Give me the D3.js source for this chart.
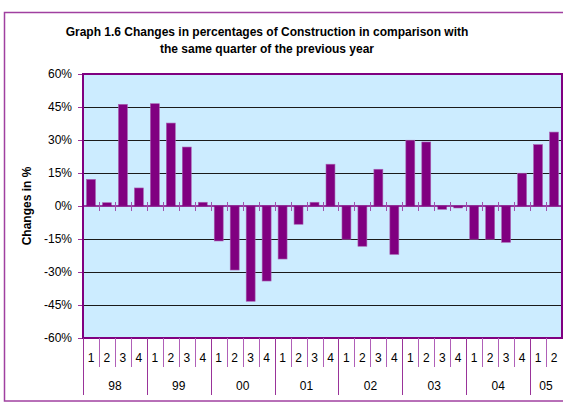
<!DOCTYPE html>
<html>
<head>
<meta charset="utf-8">
<script src="https://cdn.jsdelivr.net/npm/d3@7"></script>
<style>
  body { margin: 0; background: #fff; }
  svg { display: block; font-family: "Liberation Sans", Arial, sans-serif; }
</style>
</head>
<body>
<div id="chart"></div>
<script>
const years = ["98", "99", "00", "01", "02", "03", "04", "05"];
const quartersPerYear = [4, 4, 4, 4, 4, 4, 4, 2];
const values = [
  12.1, 1.5, 46.2, 8.2,
  46.5, 37.7, 26.8, 1.7,
  -15.9, -29.1, -43.3, -34.1,
  -24.1, -8.3, 1.7, 19.0,
  -15.1, -18.3, 16.7, -22.0,
  29.9, 29.1, -1.5, -0.9,
  -15.1, -15.1, -16.5, 14.9,
  27.9, 33.6
];
const yTicks = [-60, -45, -30, -15, 0, 15, 30, 45, 60];

// one category per quarter
const cats = [];
years.forEach((y, i) => {
  for (let q = 1; q <= quartersPerYear[i]; q++) cats.push({ key: y + "-" + q, year: y, q: q });
});

const W = 563, H = 404;
const margin = { top: 74, right: 1, bottom: 66, left: 83 };
const width = W - margin.left - margin.right,
      height = H - margin.top - margin.bottom;

const svg = d3.select("#chart").append("svg")
    .attr("width", W)
    .attr("height", H);

// outer chart frame (runs off the right edge like the original)
svg.append("rect")
    .attr("x", 4.5).attr("y", 12.5)
    .attr("width", 580).attr("height", 388.5)
    .attr("fill", "none")
    .attr("stroke", "#a040a0")
    .attr("stroke-width", 1.5);

// title
svg.append("text")
    .attr("x", 267).attr("y", 36)
    .attr("text-anchor", "middle")
    .attr("font-size", "12px").attr("font-weight", "bold")
    .text("Graph 1.6 Changes in percentages of Construction in comparison with");
svg.append("text")
    .attr("x", 267).attr("y", 53)
    .attr("text-anchor", "middle")
    .attr("font-size", "12px").attr("font-weight", "bold")
    .text("the same quarter of the previous year");

const g = svg.append("g")
    .attr("transform", `translate(${margin.left},${margin.top})`);

const x = d3.scaleBand()
    .domain(cats.map(d => d.key))
    .range([0, width])
    .paddingInner(0.44)
    .paddingOuter(0.22);

const y = d3.scaleLinear()
    .domain([-60, 60])
    .range([height, 0]);

// plot background
g.append("rect")
    .attr("width", width).attr("height", height)
    .attr("fill", "#ccecff");

// gridlines
g.append("g")
    .selectAll("line")
    .data(yTicks.filter(v => v !== 0 && Math.abs(v) !== 60))
    .join("line")
      .attr("x1", 0).attr("x2", width)
      .attr("y1", d => Math.round(y(d)) + 0.5).attr("y2", d => Math.round(y(d)) + 0.5)
      .attr("stroke", "#1a1a1a")
      .attr("stroke-width", 1.2);

// y axis
g.append("g")
    .call(d3.axisLeft(y).tickValues(yTicks).tickFormat(d => d + "%").tickSize(5).tickPadding(6))
    .call(a => a.select(".domain").remove())
    .call(a => a.selectAll("line").attr("stroke", "#993399"))
    .call(a => a.selectAll("text")
        .attr("font-family", "Liberation Sans, Arial, sans-serif")
        .attr("font-size", "12px")
        .attr("fill", "#000"));

// bars
g.append("g")
    .selectAll("rect")
    .data(cats)
    .join("rect")
      .attr("x", d => x(d.key))
      .attr("width", x.bandwidth())
      .attr("y", (d, i) => y(Math.max(0, values[i])))
      .attr("height", (d, i) => Math.abs(y(values[i]) - y(0)))
      .attr("fill", "#800080")
      .attr("stroke", "#a860b0")
      .attr("stroke-width", 0.6);

// zero axis with crossing ticks at category boundaries
const step = x.step();
const bounds = d3.range(cats.length + 1).map(i => i * step);
g.append("line")
    .attr("x1", 0).attr("x2", width)
    .attr("y1", y(0)).attr("y2", y(0))
    .attr("stroke", "#800080").attr("stroke-width", 1.5);
g.append("g")
    .selectAll("line")
    .data(bounds.slice(1, -1))
    .join("line")
      .attr("x1", d => Math.round(d) + 0.5).attr("x2", d => Math.round(d) + 0.5)
      .attr("y1", y(0) - 4).attr("y2", y(0) + 5)
      .attr("stroke", "#a050b0").attr("stroke-width", 1);

// plot frame
g.append("rect")
    .attr("width", width).attr("height", height)
    .attr("fill", "none")
    .attr("stroke", "#800080")
    .attr("stroke-width", 2);

// category axis below the plot: quarters, then years
const catAxis = g.append("g").attr("transform", `translate(0,${height})`);
let start = 0;
const yearSpans = years.map((yr, i) => {
  const s = { year: yr, from: start, to: start + quartersPerYear[i] };
  start += quartersPerYear[i];
  return s;
});
const yearStarts = new Set(yearSpans.map(s => s.from));

catAxis.selectAll("line.tick")
    .data(bounds.slice(0, -1))
    .join("line")
      .attr("class", "tick")
      .attr("x1", d => Math.round(d) + 0.5).attr("x2", d => Math.round(d) + 0.5)
      .attr("y1", 0)
      .attr("y2", (d, i) => yearStarts.has(i) ? 57 : 29)
      .attr("stroke", (d, i) => yearStarts.has(i) ? "#993399" : "#b060b8")
      .attr("stroke-width", 1);

catAxis.selectAll("text.q")
    .data(cats)
    .join("text")
      .attr("class", "q")
      .attr("x", d => x(d.key) + x.bandwidth() / 2)
      .attr("y", 24)
      .attr("text-anchor", "middle")
      .attr("font-size", "12px")
      .text(d => d.q);

catAxis.selectAll("text.yr")
    .data(yearSpans)
    .join("text")
      .attr("class", "yr")
      .attr("x", d => (d.from + d.to) / 2 * step)
      .attr("y", 52)
      .attr("text-anchor", "middle")
      .attr("font-size", "12px")
      .text(d => d.year);

// y axis title
svg.append("text")
    .attr("transform", `translate(31,${margin.top + y(0)}) rotate(-90)`)
    .attr("text-anchor", "middle")
    .attr("font-size", "12px").attr("font-weight", "bold")
    .text("Changes in %");
</script>
</body>
</html>
